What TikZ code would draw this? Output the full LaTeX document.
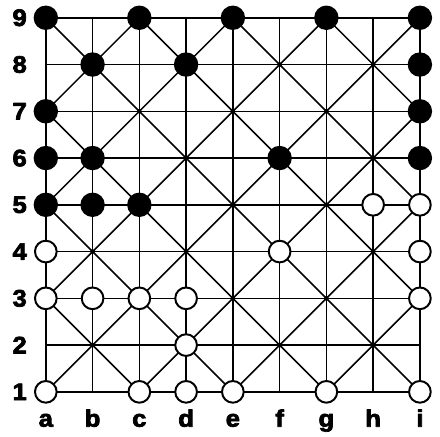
\documentclass[tikz,border=0pt]{standalone}
\usepackage{fontspec}
\setmainfont{Liberation Sans}
\newfontfamily\heavyfont[FakeBold=3, FakeStretch=1.08]{Liberation Sans Bold}
\usetikzlibrary{positioning}

\tikzset{
  gridline/.style={line width=0.95pt},
  blackstone/.style={fill=black, draw=black, line width=0.9pt},
  whitestone/.style={fill=white, draw=black, line width=1.2pt},
  boardlabel/.style={font=\fontsize{14.5}{16}\heavyfont, inner sep=0pt}
}

\begin{document}
\begin{tikzpicture}[line join=round, line cap=round]
    \useasboundingbox (-0.98,-0.96) rectangle (8.43,8.38);
    % points of the board
    \foreach \i in {0,...,8} {
      \foreach \j in {0,...,8} {
        \coordinate (p\i\j) at (\i,\j);
      }
    }
    % straight lines
    \foreach \k in {0,...,8} {
      \draw[gridline] (p0\k) -- (p8\k);
      \draw[gridline] (p\k0) -- (p\k8);
    }
    % diagonals, one cross in every 2x2 block
    \foreach \i/\ii in {0/2,2/4,4/6,6/8} {
      \foreach \j/\jj in {0/2,2/4,4/6,6/8} {
        \draw[gridline] (p\i\j) -- (p\ii\jj) (p\ii\j) -- (p\i\jj);
      }
    }
    % small dots where diagonals cross
    \foreach \i in {0,...,8} {
      \foreach \j in {0,...,8} {
        \pgfmathtruncatemacro{\parity}{mod(\i+\j,2)}
        \ifnum\parity=0 \fill (p\i\j) circle (0.05); \fi
      }
    }
    % labels
    \foreach \l [count=\n from 0] in {a,b,c,d,e,f,g,h,i} {
      \node[boardlabel, anchor=base] (col\l) at (\n,-0.745) {\l};
    }
    \foreach \r [count=\n from 0] in {1,...,9} {
      \node[boardlabel] (row\r) at (-0.56,\n) {\r};
    }
    % black stones
    \foreach \p in {08,28,48,68,88, 17,37,87, 06,86, 05,15,55,85, 04,14,24} {
      \draw[blackstone] (p\p) circle (0.245);
    }
    % white stones
    \foreach \p in {74,84, 03,53,83, 02,12,22,32,82, 31, 00,20,30,40,60,80} {
      \draw[whitestone] (p\p) circle (0.232);
    }
\end{tikzpicture}
\end{document}
